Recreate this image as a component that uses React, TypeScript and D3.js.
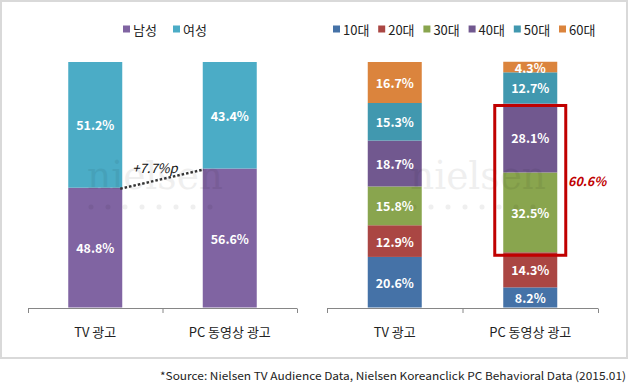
import * as d3 from "d3";

// categories and series
const categories = ["TV 광고", "PC 동영상 광고"];
const genderSeries = ["남성", "여성"];
const maleShare = [48.8, 56.6];
const femaleShare = [51.2, 43.4];
const maleGapLabel = "+7.7%p";

const ageSeries = ["10대", "20대", "30대", "40대", "50대", "60대"];
const age10 = [20.6, 8.2];
const age20 = [12.9, 14.3];
const age30 = [15.8, 32.5];
const age40 = [18.7, 28.1];
const age50 = [15.3, 12.7];
const age60 = [16.7, 4.3];

const sourceNote = "*Source: Nielsen TV Audience Data, Nielsen  Koreanclick PC Behavioral Data (2015.01)";

const genderColors = ["#8064A2", "#4BACC6"];
const ageColors = ["#4572A7", "#AA4643", "#89A54E", "#71588F", "#4198AF", "#DB843D"];

const font = "'Noto Sans CJK KR', 'Noto Sans', sans-serif";
const W = 629;
const H = 390;

const y = d3.scaleLinear().domain([0, 100]).range([307.5, 62]);
const barW = 54;

const xLeft = d3.scaleBand().domain(categories).range([28, 297]);
const xRight = d3.scaleBand().domain(categories).range([327, 598]);

const genderRows = categories.map((c, i) => ({
  cat: c,
  남성: maleShare[i],
  여성: femaleShare[i],
}));
const ageArrays = [age10, age20, age30, age40, age50, age60];
const ageRows = categories.map((c, i) => {
  const row: any = { cat: c };
  ageSeries.forEach((s, j) => (row[s] = ageArrays[j][i]));
  return row;
});

const genderStack = d3.stack<any>().keys(genderSeries)(genderRows);
const ageStack = d3.stack<any>().keys(ageSeries)(ageRows);

const Axis = ({ x }: { x: d3.ScaleBand<string> }) => {
  const [r0, r1] = x.range();
  const ticks = [r0, ...categories.map((c) => (x(c) as number) + x.bandwidth())];
  return (
    <g>
      <line x1={r0} x2={r1} y1={308.5} y2={308.5} stroke="#868686" strokeWidth={1} />
      {ticks.map((t, i) => (
        <line key={i} x1={t + 0.5} x2={t + 0.5} y1={308.5} y2={313} stroke="#868686" />
      ))}
      {categories.map((c) => (
        <text
          key={c}
          x={(x(c) as number) + x.bandwidth() / 2}
          y={331}
          textAnchor="middle"
          dominantBaseline="central"
          fontSize={13}
          fill="#222"
          fontFamily={font}
        >
          {c}
        </text>
      ))}
    </g>
  );
};

const Stacks = ({
  stack,
  x,
  colors,
}: {
  stack: d3.Series<any, string>[];
  x: d3.ScaleBand<string>;
  colors: string[];
}) => (
  <g>
    {stack.map((s, si) =>
      s.map((d) => {
        const cx = (x(d.data.cat) as number) + x.bandwidth() / 2;
        const top = y(d[1]);
        const bot = y(d[0]);
        const v = d[1] - d[0];
        return (
          <g key={s.key + d.data.cat}>
            <rect x={cx - barW / 2} y={top} width={barW} height={bot - top} fill={colors[si]} />
            <text
              x={cx}
              y={(top + bot) / 2}
              textAnchor="middle"
              dominantBaseline="central"
              fill="#fff"
              fontSize={12.5}
              fontWeight="bold"
              fontFamily={font}
            >
              {v.toFixed(1)}%
            </text>
          </g>
        );
      })
    )}
  </g>
);

const Legend = ({ items, colors, x0, step }: { items: string[]; colors: string[]; x0: number[] | number; step: number }) => (
  <g>
    {items.map((it, i) => {
      const lx = Array.isArray(x0) ? x0[i] : x0 + i * step;
      return (
        <g key={it}>
          <rect x={lx} y={25.5} width={7} height={7} fill={colors[i]} />
          <text x={lx + 10} y={29.5} dominantBaseline="central" fontSize={13} fill="#222" fontFamily={font}>
            {it}
          </text>
        </g>
      );
    })}
  </g>
);

// faint "nielsen" watermark laid over the chart
const Watermark = ({ x0 }: { x0: number }) => (
  <g opacity={0.06} fill="#000" pointerEvents="none">
    <text x={x0} y={189} fontSize={40} fontFamily="'DejaVu Serif', serif" textLength={136} lengthAdjust="spacingAndGlyphs">
      nielsen
    </text>
    {d3.range(8).map((i) => (
      <circle key={i} cx={x0 + 4 + i * 17} cy={207} r={2.5} />
    ))}
  </g>
);

export default function App() {
  const tvMaleTop = y(maleShare[0]);
  const pcMaleTop = y(maleShare[1]);
  const tvX = (xLeft(categories[0]) as number) + xLeft.bandwidth() / 2 + barW / 2;
  const pcX = (xLeft(categories[1]) as number) + xLeft.bandwidth() / 2 - barW / 2;

  // highlight box around 30대 + 40대 of PC 동영상 광고
  const pcIdx = 1;
  const boxTop = y(ageStack[3][pcIdx][1]) + 2;
  const boxBot = y(ageStack[2][pcIdx][0]) + 3;
  const pcCx = (xRight(categories[1]) as number) + xRight.bandwidth() / 2;
  const boxSum = age30[pcIdx] + age40[pcIdx];

  return (
    <svg width={W} height={H} style={{ position: "absolute", left: 0, top: 0 }}>
      <rect x={1} y={1} width={626} height={357} fill="#fff" stroke="#D9D9D9" strokeWidth={2} />

      <Legend items={genderSeries} colors={genderColors} x0={[123, 173]} step={0} />
      <Legend items={ageSeries} colors={ageColors} x0={333} step={45.2} />

      <Stacks stack={genderStack} x={xLeft} colors={genderColors} />
      <Stacks stack={ageStack} x={xRight} colors={ageColors} />

      <Axis x={xLeft} />
      <Axis x={xRight} />

      <Watermark x0={87} />
      <Watermark x0={410} />

      <line
        x1={tvX - 2}
        y1={tvMaleTop + 1}
        x2={pcX + 1}
        y2={pcMaleTop + 1}
        stroke="#333"
        strokeWidth={2.5}
        strokeDasharray="2.5,2"
      />
      <text
        x={155}
        y={167}
        textAnchor="middle"
        dominantBaseline="central"
        fontSize={13}
        fontStyle="italic"
        fill="#111"
        fontFamily={font}
      >
        {maleGapLabel}
      </text>

      <rect
        x={pcCx - barW / 2 - 8.5}
        y={boxTop}
        width={barW + 17}
        height={boxBot - boxTop}
        fill="none"
        stroke="#C00000"
        strokeWidth={3}
      />
      <text
        x={568}
        y={180}
        dominantBaseline="central"
        fontSize={12.5}
        fontStyle="italic"
        fontWeight="bold"
        fill="#C00000"
        fontFamily={font}
      >
        {boxSum.toFixed(1)}%
      </text>

      <text
        x={626}
        y={375}
        textAnchor="end"
        dominantBaseline="central"
        fontSize={11}
        fill="#222"
        fontFamily={font}
        textLength={466}
        lengthAdjust="spacingAndGlyphs"
      >
        {sourceNote}
      </text>
    </svg>
  );
}
